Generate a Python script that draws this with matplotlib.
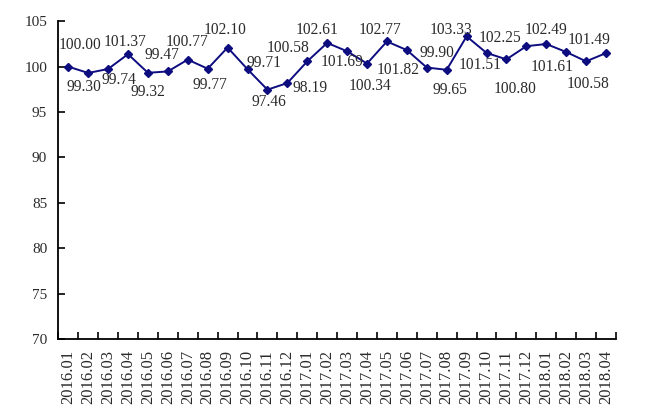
import matplotlib.pyplot as plt
import numpy as np

months = ['2016.01', '2016.02', '2016.03', '2016.04', '2016.05', '2016.06',
          '2016.07', '2016.08', '2016.09', '2016.10', '2016.11', '2016.12',
          '2017.01', '2017.02', '2017.03', '2017.04', '2017.05', '2017.06',
          '2017.07', '2017.08', '2017.09', '2017.10', '2017.11', '2017.12',
          '2018.01', '2018.02', '2018.03', '2018.04']
values = [100.00, 99.30, 99.74, 101.37, 99.32, 99.47, 100.77, 99.77, 102.10,
          99.71, 97.46, 98.19, 100.58, 102.61, 101.69, 100.34, 102.77, 101.82,
          99.90, 99.65, 103.33, 101.51, 100.80, 102.25, 102.49, 101.61,
          100.58, 101.49]

# label offsets in pixels (dx right, dy down), hand placed like the original
label_dx = [12, -4.5, 11, -3, 0, -6, -1, 2, -2.6, 16.5, 1.5, 22.6, -19.3, -10,
            -4.7, 3.4, -7, -9, 10, 3.7, -15.7, -6.6, 8.5, -26.4, 0, -13.8, 2.3, -17]
label_dy = [-21.7, 14, 11, -12.4, 19, -16.4, -18, 16, -17.7, -6, 12, 5, -13.3, -13,
            10.3, 22.4, -11.5, 20, -14.3, 20, -6.3, 11.6, 30, -8, -14, 15.5, 22.3, -13.5]

plt.rcParams['font.family'] = ['Liberation Serif', 'DejaVu Serif']
navy = '#0d0d80'
grey = '#2a2a2a'

fig = plt.figure(figsize=(6.45, 4.16), dpi=100)
ax = fig.add_axes([0.0904, 0.185, 0.955 - 0.0904, 0.949 - 0.185])

x = np.arange(len(values))
ax.plot(x, values, color=navy, linewidth=1.4, marker='D', markersize=4)

for i, v in enumerate(values):
    ax.annotate(f'{v:.2f}', (x[i], v), xytext=(label_dx[i], -label_dy[i]),
                textcoords='offset pixels', ha='center', va='center',
                fontsize=11.2, color=grey)

ax.set_ylim(70, 105)
ax.set_yticks(range(70, 106, 5))
ax.set_xlim(-0.5, len(values) - 0.5)
ax.set_xticks(x)
ax.set_xticklabels(months, rotation=90, fontsize=12, color=grey)
ax.set_xticks(np.arange(len(values) + 1) - 0.5, minor=True)

ax.tick_params(axis='x', which='major', length=0, pad=8)
ax.tick_params(axis='x', which='minor', direction='in', length=5, width=1.2)
ax.tick_params(axis='y', direction='in', length=5, width=1.2, pad=8,
               labelsize=11, labelcolor=grey)

for s in ['top', 'right']:
    ax.spines[s].set_visible(False)
for s in ['left', 'bottom']:
    ax.spines[s].set_linewidth(1.3)

fig.savefig('out.png', dpi=100)
